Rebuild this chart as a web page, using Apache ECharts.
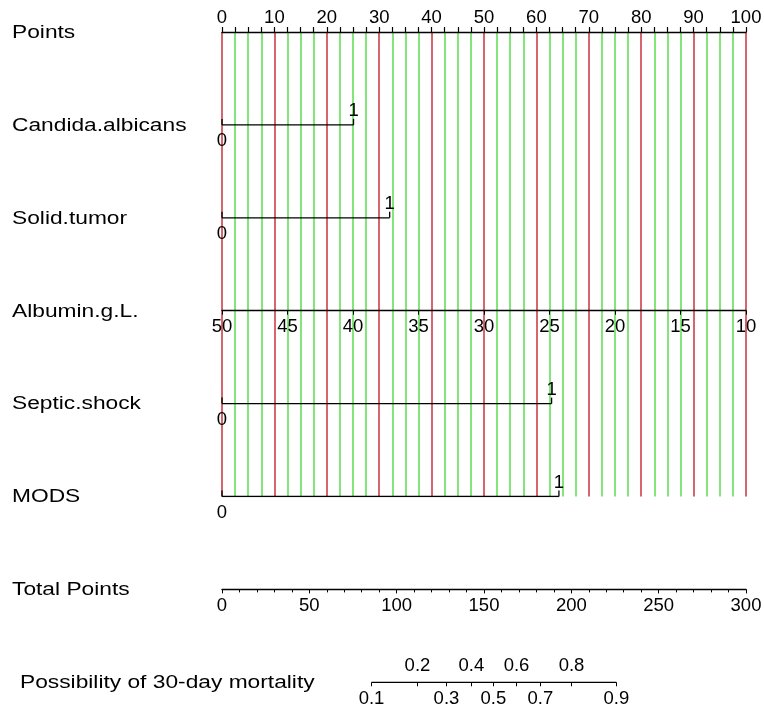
<!DOCTYPE html>
<html>
<head>
<meta charset="utf-8">
<title>Nomogram</title>
<script src="https://cdn.jsdelivr.net/npm/echarts@6/dist/echarts.min.js"></script>
<style>
html, body { margin: 0; padding: 0; background: #fff; }
#container { width: 764px; height: 706px; }
</style>
</head>
<body>
<div id="container"></div>
<script>
// row titles, top to bottom
var rowNames = [
  "Points",
  "Candida.albicans",
  "Solid.tumor",
  "Albumin.g.L.",
  "Septic.shock",
  "MODS",
  "Total Points",
  "Possibility of 30-day mortality",
];
// binary predictors: points given for level 1 (level 0 = 0 points)
var binaryNames = ["Candida.albicans", "Solid.tumor", "Septic.shock", "MODS"];
var binaryPoints = [25.1, 32.0, 62.9, 64.3];
var binaryLevels = ["0", "1"];
// albumin: 50 g/L -> 0 points, 10 g/L -> 100 points
var albuminTicks = [50, 45, 40, 35, 30, 25, 20, 15, 10];
// total points scale
var totalMax = 300;
// mortality scale: probability and where it sits on total points
var mortalityProb = [0.1, 0.2, 0.3, 0.4, 0.5, 0.6, 0.7, 0.8, 0.9];
var mortalityTotal = [85.6, 111.9, 128.5, 142.8, 155.4, 168.6, 182.3, 200.1, 225.8];

var RED = "#c8323c";
var GREEN = "#5ade4e";
var FONT = "Liberation Sans";
var rowTop = 32;
var rowGap = 92.9;
var rowY = function (r) {
  return rowTop + r * rowGap;
};

var dom = document.getElementById("container");
var myChart = echarts.init(dom, null, { renderer: "canvas" });

function probLabel(v) {
  for (var i = 0; i < mortalityTotal.length; i++) {
    if (Math.abs(mortalityTotal[i] - v) < 1e-6) return String(mortalityProb[i]);
  }
  return "";
}

var series = [];
binaryNames.forEach(function (name, i) {
  var row = rowNames.indexOf(name);
  series.push({
    type: "line",
    xAxisIndex: 0,
    yAxisIndex: 0,
    data: [
      {
        value: [0, row],
        label: { formatter: binaryLevels[0], position: "bottom", distance: 7 },
      },
      {
        value: [binaryPoints[i], row],
        label: { formatter: binaryLevels[1], position: "top", distance: -2 },
      },
    ],
    symbol: "rect",
    symbolSize: [1.3, 6],
    symbolOffset: [0, -3],
    lineStyle: { color: "#000", width: 1.3 },
    itemStyle: { color: "#000" },
    label: { show: true, fontSize: 18.5, fontFamily: FONT, color: "#000" },
    emphasis: { disabled: true },
    z: 5,
  });
});

// possibility axis line segment
series.push({
  type: "line",
  xAxisIndex: 3,
  yAxisIndex: 3,
  data: [
    [mortalityTotal[0], 0],
    [mortalityTotal[mortalityTotal.length - 1], 0],
  ],
  symbol: "none",
  lineStyle: { color: "#000", width: 1.3 },
  emphasis: { disabled: true },
});

var labelStyle = { fontSize: 18.5, fontFamily: FONT, color: "#000" };
var lineBlack = { lineStyle: { color: "#000", width: 1.3 } };

var option = {
  animation: false,
  grid: [
    { left: 222, right: 18, top: rowY(0), height: rowY(5) - rowY(0), outerBoundsMode: "none" },
    { left: 222, right: 18, top: rowY(3) - 1, height: 1, outerBoundsMode: "none" },
    { left: 222, right: 18, top: rowY(6) - 1, height: 1, outerBoundsMode: "none" },
    { left: 222, right: 18, top: rowY(7) - 1, height: 1, outerBoundsMode: "none" },
  ],
  xAxis: [
    {
      // Points
      gridIndex: 0,
      type: "value",
      position: "top",
      min: 0,
      max: 100,
      interval: 2.5,
      axisLine: lineBlack,
      axisTick: { show: true, length: 5, lineStyle: { color: "#000", width: 1.2 } },
      axisLabel: Object.assign({}, labelStyle, {
        margin: 5,
        formatter: function (v) {
          return v % 10 === 0 ? String(v) : "";
        },
      }),
      splitLine: {
        show: true,
        lineStyle: { color: [RED, GREEN, GREEN, GREEN], width: 1.5 },
      },
    },
    {
      // Albumin
      gridIndex: 1,
      type: "value",
      position: "bottom",
      min: albuminTicks[albuminTicks.length - 1],
      max: albuminTicks[0],
      inverse: true,
      interval: 5,
      axisLine: lineBlack,
      axisTick: { show: true, length: 4, lineStyle: { color: "#000" } },
      axisLabel: Object.assign({}, labelStyle, { margin: 7 }),
      splitLine: { show: false },
    },
    {
      // Total points
      gridIndex: 2,
      type: "value",
      position: "bottom",
      min: 0,
      max: totalMax,
      interval: 50,
      axisLine: lineBlack,
      axisTick: { show: true, length: 4, lineStyle: { color: "#000" } },
      minorTick: { show: true, splitNumber: 5, length: 3, lineStyle: { color: "#000" } },
      axisLabel: Object.assign({}, labelStyle, { margin: 7 }),
      splitLine: { show: false },
    },
    {
      // Possibility, labels below
      gridIndex: 3,
      type: "value",
      position: "bottom",
      min: 0,
      max: totalMax,
      axisLine: { show: false },
      axisTick: {
        show: true,
        length: 4,
        customValues: mortalityTotal,
        lineStyle: { color: "#000" },
      },
      axisLabel: Object.assign({}, labelStyle, {
        margin: 7,
        customValues: mortalityTotal.filter(function (v, i) {
          return i % 2 === 0;
        }),
        formatter: probLabel,
      }),
      splitLine: { show: false },
    },
    {
      // Possibility, labels above
      gridIndex: 3,
      type: "value",
      position: "top",
      min: 0,
      max: totalMax,
      axisLine: { show: false },
      axisTick: { show: false },
      axisLabel: Object.assign({}, labelStyle, {
        margin: 6,
        customValues: mortalityTotal.filter(function (v, i) {
          return i % 2 === 1;
        }),
        formatter: probLabel,
      }),
      splitLine: { show: false },
    },
  ],
  yAxis: [
    { gridIndex: 0, type: "value", min: 0, max: 5, inverse: true, show: false },
    { gridIndex: 1, type: "value", min: 0, max: 1, show: false },
    { gridIndex: 2, type: "value", min: 0, max: 1, show: false },
    { gridIndex: 3, type: "value", min: 0, max: 1, show: false },
  ],
  graphic: rowNames.map(function (name, r) {
    return {
      type: "text",
      x: r === 7 ? 20 : 12,
      y: rowY(r) + 1,
      scaleX: 1.3,
      silent: true,
      style: {
        text: name,
        fontSize: 17.5,
        fontFamily: FONT,
        fill: "#000",
        verticalAlign: "middle",
      },
    };
  }),
  series: series,
};

myChart.setOption(option);
window.addEventListener("resize", myChart.resize);
</script>
</body>
</html>
